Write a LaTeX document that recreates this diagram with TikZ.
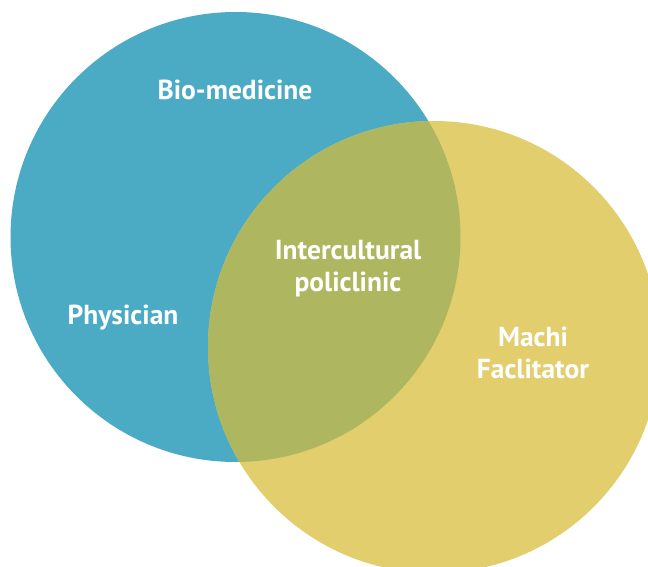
\documentclass[tikz,border=0pt]{standalone}
\usepackage{fontspec}
\setmainfont{PT Sans}
\definecolor{cblue}{HTML}{4BABC5}
\definecolor{cyellow}{HTML}{E2CE6D}
\definecolor{coverlap}{HTML}{AEB660}
\begin{document}
\begin{tikzpicture}[x=1pt,y=-1pt,
  lbl/.style={text=white,font=\bfseries\fontsize{27.5}{32}\selectfont,align=center,inner sep=0pt}]
\useasboundingbox (0,0) rectangle (648,567);
\clip (0,0) rectangle (648,567);
\fill[cblue] (235.5,237) circle[radius=225];
\fill[cyellow] (434,347) circle[radius=226];
\begin{scope}
\clip (235.5,237) circle[radius=225];
\fill[coverlap] (434,347) circle[radius=226];
\end{scope}
\node[lbl] (bio) at (235,90) {Bio-medicine};
\node[lbl] (inter) at (348,269) {Intercultural\\policlinic};
\node[lbl] (phys) at (123,318) {Physician};
\node[lbl] (machi) at (533,353) {Machi\\Faclitator};
\end{tikzpicture}
\end{document}
